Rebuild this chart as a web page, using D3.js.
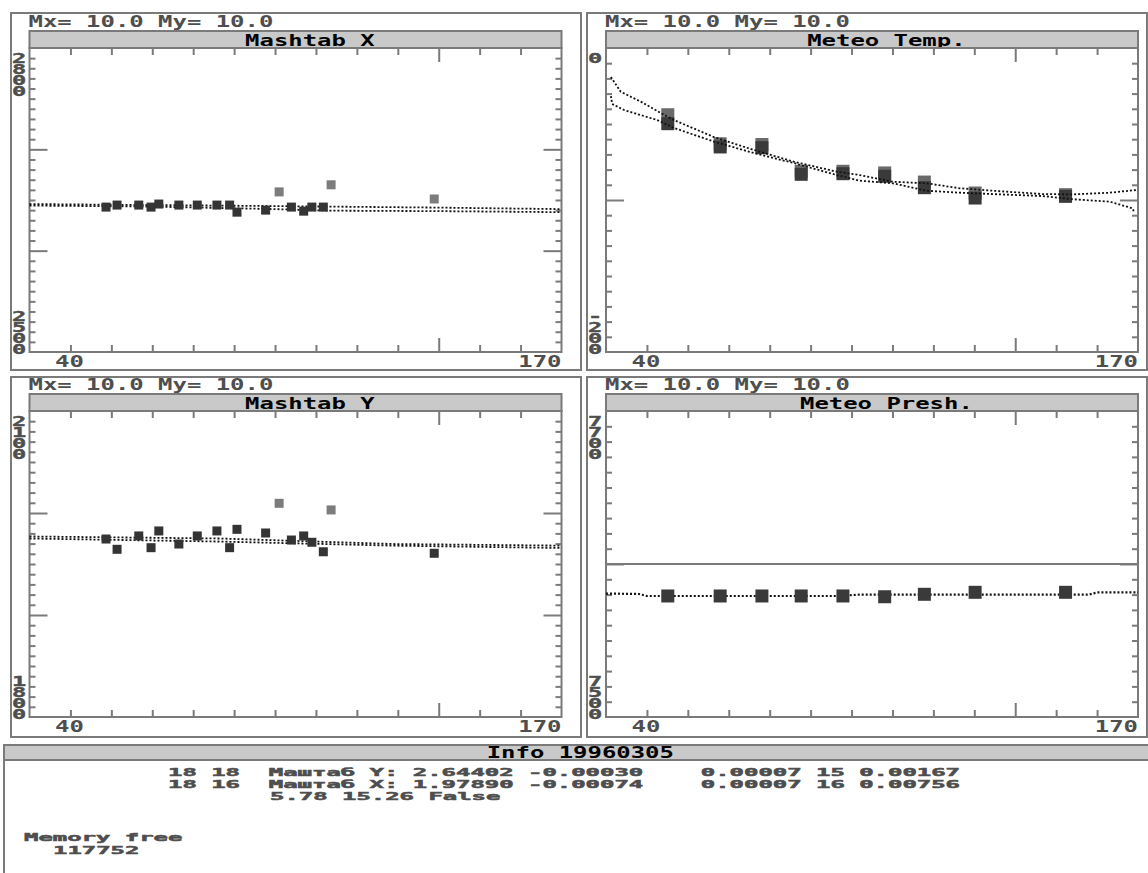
<!DOCTYPE html>
<html><head><meta charset="utf-8">
<script src="https://cdn.jsdelivr.net/npm/d3@7"></script>
<style>
body{margin:0;background:#fff}
svg{display:block}
text{font-family:"DejaVu Sans Mono",monospace;white-space:pre}
</style>
</head><body>
<svg id="c" width="1148" height="873"></svg>
<script>
// ---------------- DATA ----------------
const xDomain = [40, 170];
const xTickValues = [50, 60, 70, 80, 90, 100, 110, 120, 130, 140, 150, 160];
const xLongTicks = [140];
const xEndLabels = ["40", "170"];
const scaleLabel = "Mx= 10.0 My= 10.0";

const sampleX = [58.7, 61.4, 66.7, 69.7, 71.6, 76.5, 81.0, 85.8, 88.9, 90.7, 97.7, 101.0, 104.0, 107.0, 109.0, 111.8, 113.7, 138.9];
const mashtabXValues = [2643, 2645, 2645, 2643, 2646, 2645, 2645, 2645, 2645, 2638, 2640, 2658, 2643, 2639, 2643, 2643, 2665, 2651];
const mashtabXExcluded = [0, 0, 0, 0, 0, 0, 0, 0, 0, 0, 0, 1, 0, 0, 0, 0, 1, 1];
const mashtabYValues = [1974.5, 1964.4, 1977.5, 1966, 1982.4, 1969.6, 1977.5, 1982.4, 1966, 1984, 1980.4, 2009.5, 1973.5, 1977.5, 1971.3, 1962, 2003, 1960.5];
const mashtabYExcluded = [0, 0, 0, 0, 0, 0, 0, 0, 0, 0, 0, 1, 0, 0, 0, 0, 1, 0];

const fitXLineX = [40, 70, 100, 113, 140, 170];
const fitXUpper = [2646, 2645, 2644, 2643.5, 2642.5, 2641];
const fitXLower = [2644.5, 2643.5, 2641, 2639.5, 2639, 2638];
const fitYLineX = [40, 86.5, 128.8, 170];
const fitYUpper = [1977, 1975, 1969.6, 1968];
const fitYLower = [1975, 1972, 1968, 1965.7];

const meteoX = [55.1, 67.9, 78.1, 87.7, 97.9, 108.1, 117.8, 130.2, 152.3];
const tempA = [-43.9, -63.0, -63.5, -81.1, -81.1, -82.2, -88.2, -95.4, -96.5];
const tempB = [-49.8, -65.1, -65.6, -83.1, -82.7, -84.4, -91.9, -98.7, -97.6];
const pressure = [7579.1, 7579.1, 7579.1, 7579.1, 7579.1, 7578.6, 7580.2, 7581.5, 7581.5];

const tempUpperX = [41.2, 43.6, 48.5, 53.4, 56.6, 66.4, 76.1, 85.9, 96.4, 102, 110.1, 118.3, 126.5, 134.5, 146.7, 154.1, 163.1, 169.7];
const tempUpperY = [-19.1, -28.8, -35.3, -42.8, -47.4, -58.6, -67.1, -74.8, -81.4, -83.6, -88.0, -89.0, -92.3, -93.9, -96.1, -96.3, -95.2, -93.4];
const tempLowerX = [41.2, 41.5, 44.4, 52.5, 56.6, 66.4, 76.1, 85.9, 96.4, 102, 110.1, 118.3, 126.5, 134.5, 146.7, 154.1, 163.1, 168.7, 169.0];
const tempLowerY = [-31.6, -36.8, -40.8, -47.4, -52.6, -61.6, -69.1, -75.7, -83.6, -87.3, -89.0, -93.9, -95.2, -96.1, -97.4, -99.5, -101.1, -105.5, -107.9];

const presLineX = [40, 48, 50, 97, 102, 158, 160, 170];
const presLineY = [7580.7, 7580.4, 7579.1, 7579.1, 7580.0, 7580.0, 7581.4, 7581.4];
const presRefLine = [7600];

const panelTitles = ["Mashtab X", "Meteo Temp.", "Mashtab Y", "Meteo Presh."];
const yDomains = [[2500, 2800], [-200, 0], [1800, 2100], [7500, 7700]];
const yEndLabels = [["2800", "2500"], ["0", "-200"], ["2100", "1800"], ["7700", "7500"]];

const infoTitle = "Info 19960305";
const infoRows = [
  "18 18  Маштаб Y: 2.64402 -0.00030    0.00007 15 0.00167",
  "18 16  Маштаб X: 1.97890 -0.00074    0.00007 16 0.00756",
  "5.78 15.26 False"
];
const memoryLabel = "Memory free";
const memoryValue = "117752";

// ---------------- LAYOUT ----------------
const CW = 14.4;
const GRAY = "#7a7a7a";
const TXT = "#4e4e4e";
const layout = [
  {frame: [11, 13, 581, 370], plot: [29.5, 48, 561.5, 352]},
  {frame: [587, 13, 1147, 370], plot: [606, 48, 1138, 352]},
  {frame: [11, 377, 581, 737], plot: [29.5, 411, 561.5, 717]},
  {frame: [587, 377, 1147, 737], plot: [606, 411, 1138, 717]}
];

const svg = d3.select("#c");

function mono(g, str, x, y, opt = {}) {
  const cw = opt.cw || CW;
  const w = str.length * cw;
  const a = opt.anchor || "start";
  const x0 = a === "start" ? x : a === "middle" ? x - w / 2 : x - w;
  const t = g.append("text")
    .attr("x", x0).attr("y", y)
    .attr("font-size", opt.size || 15)
    .attr("font-weight", "bold")
    .attr("fill", opt.color || TXT)
    .attr("textLength", w).attr("lengthAdjust", "spacingAndGlyphs")
    .text(str);
  if (opt.stroke) t.attr("stroke", opt.color || TXT).attr("stroke-width", opt.stroke);
  return t;
}

// vertical stacked label as ONE text element
function stacked(g, str, cx, yTop, step) {
  g.append("text")
    .attr("x", cx).attr("y", yTop)
    .attr("font-size", 13.5).attr("font-weight", "bold").attr("fill", TXT)
    .attr("stroke", TXT).attr("stroke-width", 0.4)
    .style("writing-mode", "vertical-rl").style("text-orientation", "upright")
    .attr("textLength", str.length * step).attr("lengthAdjust", "spacing")
    .attr("transform", `translate(${cx},0) scale(1.75,1) translate(${-cx},0)`)
    .text(str);
}

function panel(i) {
  const L = layout[i];
  const [fx0, fy0, fx1, fy1] = L.frame;
  const [px0, py0, px1, py1] = L.plot;
  const g = svg.append("g");
  const x = d3.scaleLinear().domain(xDomain).range([px0, px1]);
  const y = d3.scaleLinear().domain(yDomains[i]).range([py1, py0]);

  g.append("rect").attr("x", fx0).attr("y", fy0).attr("width", fx1 - fx0).attr("height", fy1 - fy0)
    .attr("fill", "none").attr("stroke", GRAY).attr("stroke-width", 2);

  mono(g, scaleLabel, px0 - 1, py0 - 21);

  g.append("rect").attr("x", px0).attr("y", py0 - 17).attr("width", px1 - px0).attr("height", 17)
    .attr("fill", "#c9c9c9").attr("stroke", GRAY).attr("stroke-width", 2);
  const t = panelTitles[i];
  mono(g, t, (px0 + px1) / 2 - (t.length / 2 - 1) * CW, py0 - 2.5, {color: "#000"});

  g.append("rect").attr("x", px0).attr("y", py0).attr("width", px1 - px0).attr("height", py1 - py0)
    .attr("fill", "none").attr("stroke", GRAY).attr("stroke-width", 2);

  const yStep = 10;
  const [y0, y1] = yDomains[i];
  const yTicks = d3.range(y0 + yStep, y1, yStep);
  const isLongY = v => Math.abs(v % 100) < 1e-6;
  const isLongX = v => xLongTicks.includes(v);

  const styleAxis = (sel) => {
    sel.select(".domain").remove();
    sel.selectAll("text").remove();
    sel.selectAll("line").attr("stroke", GRAY).attr("stroke-width", 2);
  };
  const ax = [
    {ax: d3.axisTop(x).tickValues(xTickValues), tr: `translate(0,${py0})`, dir: "y", sgn: 1, lng: isLongX, s: 7, l: 14},
    {ax: d3.axisBottom(x).tickValues(xTickValues), tr: `translate(0,${py1})`, dir: "y", sgn: -1, lng: isLongX, s: 7, l: 14},
    {ax: d3.axisLeft(y).tickValues(yTicks), tr: `translate(${px0},0)`, dir: "x", sgn: 1, lng: isLongY, s: 6, l: 18},
    {ax: d3.axisRight(y).tickValues(yTicks), tr: `translate(${px1},0)`, dir: "x", sgn: -1, lng: isLongY, s: 6, l: 18}
  ];
  ax.forEach(a => {
    const ag = g.append("g").attr("transform", a.tr).call(a.ax.tickSizeOuter(0));
    styleAxis(ag);
    ag.selectAll(".tick line").attr(a.dir + "2", d => a.sgn * (a.lng(d) ? a.l : a.s));
  });

  const [topLab, botLab] = yEndLabels[i];
  const lx = fx0 + 8;
  const step = 12.4;
  stacked(g, topLab, lx, py0 + 2, step);
  stacked(g, botLab, lx, py1 + 6 - botLab.length * step, step);

  mono(g, xEndLabels[0], px0 + 25.5, py1 + 15);
  mono(g, xEndLabels[1], px1, py1 + 15, {anchor: "end"});

  return {g, x, y};
}

function dotted(g, x, y, xs, ys, w) {
  const line = d3.line().x(d => x(d[0])).y(d => y(d[1]));
  g.append("path").attr("d", line(d3.zip(xs, ys)))
    .attr("fill", "none").attr("stroke", "#111").attr("stroke-width", w || 1.8)
    .attr("stroke-dasharray", "2 2");
}

function squares(g, x, y, xs, ys, size, colorFn) {
  g.selectAll(null).data(d3.zip(xs, ys).map((d, k) => ({x: d[0], y: d[1], k})))
    .join("rect")
    .attr("x", d => x(d.x) - size / 2).attr("y", d => y(d.y) - size / 2)
    .attr("width", size).attr("height", size)
    .attr("fill", d => colorFn(d.k));
}

{
  const {g, x, y} = panel(0);
  dotted(g, x, y, fitXLineX, fitXUpper);
  dotted(g, x, y, fitXLineX, fitXLower);
  squares(g, x, y, sampleX, mashtabXValues, 9, k => mashtabXExcluded[k] ? "#7c7c7c" : "#343434");
}
{
  const {g, x, y} = panel(1);
  squares(g, x, y, meteoX, tempA, 13, () => "#6a6a6a");
  squares(g, x, y, meteoX, tempB, 13, () => "#3a3a3a");
  dotted(g, x, y, tempUpperX, tempUpperY);
  dotted(g, x, y, tempLowerX, tempLowerY);
}
{
  const {g, x, y} = panel(2);
  dotted(g, x, y, fitYLineX, fitYUpper);
  dotted(g, x, y, fitYLineX, fitYLower);
  squares(g, x, y, sampleX, mashtabYValues, 9, k => mashtabYExcluded[k] ? "#7c7c7c" : "#343434");
}
{
  const {g, x, y} = panel(3);
  g.selectAll(null).data(presRefLine).join("line")
    .attr("x1", x(xDomain[0])).attr("x2", x(xDomain[1]))
    .attr("y1", d => y(d)).attr("y2", d => y(d))
    .attr("stroke", GRAY).attr("stroke-width", 2);
  dotted(g, x, y, presLineX, presLineY, 2.2);
  squares(g, x, y, meteoX, pressure, 13, () => "#3a3a3a");
}

// Info panel
{
  const g = svg.append("g");
  g.append("line").attr("x1", 4).attr("x2", 4).attr("y1", 745).attr("y2", 873)
    .attr("stroke", GRAY).attr("stroke-width", 2);
  g.append("rect").attr("x", 4).attr("y", 745).attr("width", 1150).attr("height", 15)
    .attr("fill", "#c9c9c9").attr("stroke", GRAY).attr("stroke-width", 2);
  mono(g, infoTitle, 576 - (infoTitle.length / 2 - 0.3) * CW, 758, {color: "#000"});
  const rs = 10.2;
  mono(g, infoRows[0], 168, 775.5, {size: rs, stroke: 0.5});
  mono(g, infoRows[1], 168, 787.5, {size: rs, stroke: 0.5});
  mono(g, infoRows[2], 270, 799.5, {size: rs, stroke: 0.5});
  mono(g, memoryLabel, 24, 840.5, {size: 11, stroke: 0.5});
  mono(g, memoryValue, 53, 853.5, {size: 11, stroke: 0.5});
}
</script>
</body></html>
